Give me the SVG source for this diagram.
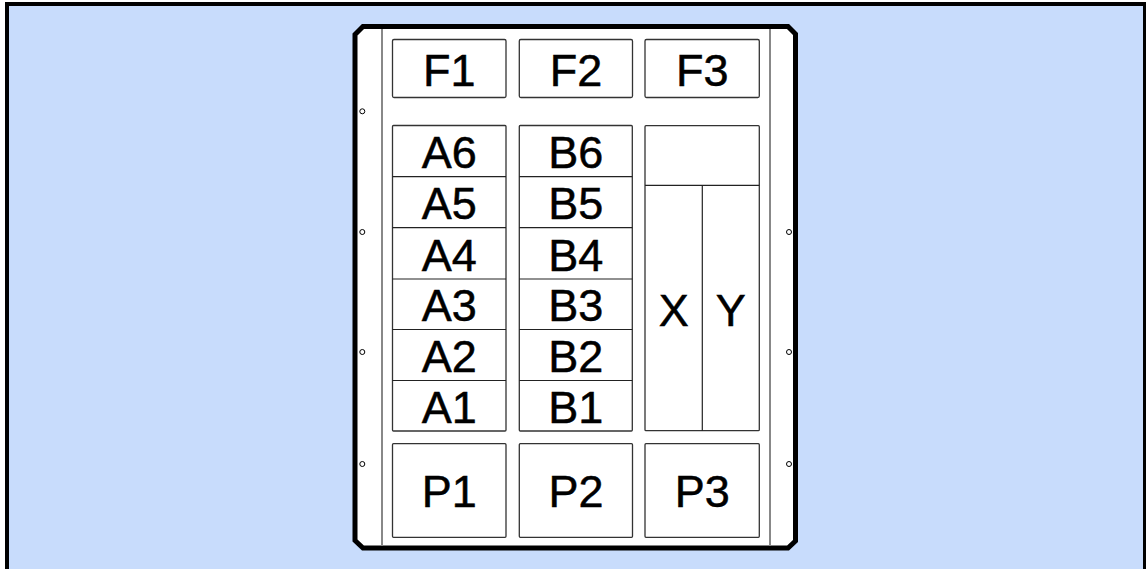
<svg xmlns="http://www.w3.org/2000/svg" width="1146" height="569" viewBox="0 0 1146 569">
<style>
.bx{fill:#fff;stroke:#333;stroke-width:1.3}
.dv{stroke:#222;stroke-width:1.2;fill:none}
.lb{font-family:"Liberation Sans",Arial,sans-serif;font-size:45px;fill:#000;stroke:#000;stroke-width:0.5;text-anchor:middle}
.hole{fill:#fff;stroke:#000;stroke-width:1}
.rail{stroke:#888;stroke-width:2;fill:none}
</style>
<rect x="7" y="4" width="1138" height="580" fill="#c8dcfc" stroke="#000" stroke-width="4"/>
<g id="cabinet">
<polygon points="363,26.5 788,26.5 795.5,34 795.5,541 788,548 363,548 355,540.5 355,34.5" fill="#fff" stroke="#000" stroke-width="5"/>
<line class="rail" x1="382" y1="29" x2="382" y2="546"/>
<line class="rail" x1="770" y1="29" x2="770" y2="546"/>
<circle class="hole" cx="362.3" cy="111.3" r="2.5"/>
<circle class="hole" cx="362.3" cy="232" r="2.5"/>
<circle class="hole" cx="362.3" cy="352" r="2.5"/>
<circle class="hole" cx="362.3" cy="464" r="2.5"/>
<circle class="hole" cx="789" cy="232" r="2.5"/>
<circle class="hole" cx="789" cy="352" r="2.5"/>
<circle class="hole" cx="789" cy="464" r="2.5"/>
</g>
<g id="F1"><rect class="bx" x="392.5" y="39.5" width="113.5" height="58" rx="1.5"/><text class="lb" x="449.3" y="86">F1</text></g>
<g id="F2"><rect class="bx" x="519.3" y="39.5" width="113.2" height="58" rx="1.5"/><text class="lb" x="576" y="86">F2</text></g>
<g id="F3"><rect class="bx" x="645" y="39.5" width="114.3" height="58" rx="1.5"/><text class="lb" x="702.2" y="86">F3</text></g>
<g id="A-column">
<rect class="bx" x="392.5" y="125.5" width="113.5" height="305.5" rx="1"/>
<g class="dv"><line x1="392.5" y1="176.7" x2="506" y2="176.7"/><line x1="392.5" y1="227.7" x2="506" y2="227.7"/><line x1="392.5" y1="279" x2="506" y2="279"/><line x1="392.5" y1="329.5" x2="506" y2="329.5"/><line x1="392.5" y1="380.5" x2="506" y2="380.5"/></g>
</g>
<g id="A6"><text class="lb" x="449.3" y="168.3">A6</text></g>
<g id="A5"><text class="lb" x="449.3" y="219.3">A5</text></g>
<g id="A4"><text class="lb" x="449.3" y="270.5">A4</text></g>
<g id="A3"><text class="lb" x="449.3" y="321.3">A3</text></g>
<g id="A2"><text class="lb" x="449.3" y="372.3">A2</text></g>
<g id="A1"><text class="lb" x="449.3" y="423">A1</text></g>
<g id="B-column">
<rect class="bx" x="519.3" y="125.5" width="113" height="305.5" rx="1"/>
<g class="dv"><line x1="519.3" y1="176.7" x2="632.3" y2="176.7"/><line x1="519.3" y1="227.7" x2="632.3" y2="227.7"/><line x1="519.3" y1="279" x2="632.3" y2="279"/><line x1="519.3" y1="329.5" x2="632.3" y2="329.5"/><line x1="519.3" y1="380.5" x2="632.3" y2="380.5"/></g>
</g>
<g id="B6"><text class="lb" x="575.8" y="168.3">B6</text></g>
<g id="B5"><text class="lb" x="575.8" y="219.3">B5</text></g>
<g id="B4"><text class="lb" x="575.8" y="270.5">B4</text></g>
<g id="B3"><text class="lb" x="575.8" y="321.3">B3</text></g>
<g id="B2"><text class="lb" x="575.8" y="372.3">B2</text></g>
<g id="B1"><text class="lb" x="575.8" y="423">B1</text></g>
<g id="XY">
<rect class="bx" x="645" y="125.7" width="114.3" height="305" rx="1"/>
<line class="dv" x1="645" y1="185.3" x2="759.3" y2="185.3"/>
<line class="dv" x1="702.3" y1="185.3" x2="702.3" y2="430.7"/>
</g>
<g id="X"><text class="lb" x="673.7" y="326">X</text></g>
<g id="Y"><text class="lb" x="730.8" y="326">Y</text></g>
<g id="P1"><rect class="bx" x="392.5" y="443.7" width="113.5" height="93.6" rx="1"/><text class="lb" x="449.3" y="507.3">P1</text></g>
<g id="P2"><rect class="bx" x="519.3" y="443.7" width="113.2" height="93.6" rx="1"/><text class="lb" x="576" y="507.3">P2</text></g>
<g id="P3"><rect class="bx" x="645" y="443.7" width="114.3" height="93.6" rx="1"/><text class="lb" x="702.2" y="507.3">P3</text></g>
<g id="connectors"/>
</svg>
